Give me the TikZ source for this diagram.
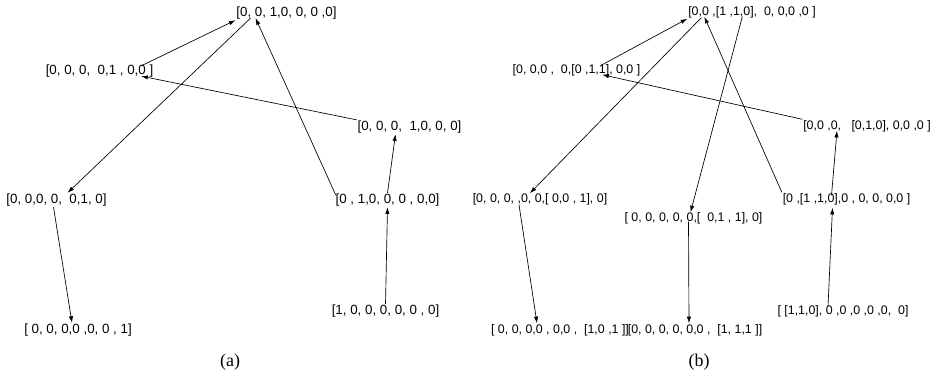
\documentclass[tikz,border=0pt]{standalone}
\usepackage{fontspec}
\setmainfont{Liberation Serif}
\newfontfamily\vecfont{Liberation Sans}
\usetikzlibrary{arrows.meta,calc}

\begin{document}
\begin{tikzpicture}[x=0.75pt,y=-0.75pt,
    vec/.style={inner sep=0.5pt,font=\vecfont\fontsize{10}{12}\selectfont},
    nvec/.style={vec,font=\vecfont\fontsize{9.3}{11}\selectfont},
    edge/.style={-{Latex[length=5pt,width=3.2pt]},line width=0.5pt},
    sublabel/.style={font=\fontsize{13.5}{16}\selectfont}]
  \useasboundingbox (0,0) rectangle (934,375);
  % (a) one-hot vectors
  \node[vec] (a1) at (286.5,13) {[0, 0, 1,0, 0, 0 ,0]};
  \node[vec] (a2) at (99.5,71) {[0, 0, 0,\ \ 0,1 , 0,0 ]};
  \node[vec] (a3) at (409.5,127) {[0, 0, 0,\ \ 1,0, 0, 0]};
  \node[vec] (a4) at (56.5,200) {[0, 0,0, 0,\ \ 0,1, 0]};
  \node[vec] (a5) at (387.5,200) {[0 , 1,0, 0, 0 , 0,0]};
  \node[vec] (a6) at (78,330) {[ 0, 0, 0,0 ,0, 0 , 1]};
  \node[vec] (a7) at (385.5,311) {[1, 0, 0, 0, 0, 0 , 0]};
  \node[sublabel] (capa) at (230,362) {(a)};
  \draw[edge] ($(a2.north east)+(-13,2)$) -- (a1.south west);
  \draw[edge] ($(a1.south west)+(15,-2)$) -- ($(a4.north west)+(62,0)$);
  \draw[edge] ($(a5.north west)+(1,2)$) -- ($(a1.south west)+(20,-2)$);
  \draw[edge] (a3.north west) -- ($(a2.south east)+(-13,-2)$);
  \draw[edge] (a5.north) -- ($(a3.south)+(-14,0)$);
  \draw[edge] (a7.north) -- (a5.south);
  \draw[edge] ($(a4.south)+(-3,0)$) -- ($(a6.north)+(-6,0)$);
  % (b) nested vectors
  \node[nvec] (b1) at (752,12) {[0,0 ,[1 ,1,0],\ \ 0, 0,0 ,0 ]};
  \node[nvec] (b2) at (576.5,70) {[0, 0,0 ,\ \ 0,[0 ,1,1], 0,0 ]};
  \node[nvec] (b3) at (867,126) {[0,0 ,0,\ \ \ [0,1,0], 0,0 ,0 ]};
  \node[nvec] (b4) at (540,199) {[0, 0, 0, ,0, 0,[ 0,0 , 1], 0]};
  \node[nvec] (b5) at (693.5,218) {[ 0, 0, 0, 0, 0,[\ \ 0,1 , 1], 0]};
  \node[nvec] (b6) at (846.5,199) {[0 ,[1 ,1,0],0 , 0, 0, 0,0 ]};
  \node[nvec] (b7) at (560,330) {[ 0, 0, 0,0 , 0,0 ,\ \ [1,0 ,1 ]]};
  \node[nvec] (b8) at (695,330) {[0, 0, 0, 0, 0,0 ,\ \ [1, 1,1 ]]};
  \node[nvec] (b9) at (843,311) {[ [1,1,0], 0 ,0 ,0 ,0 ,0,\ \ 0]};
  \node[sublabel] (capb) at (699,362) {(b)};
  \draw[edge] ($(b2.north east)+(-40,2)$) -- (b1.south west);
  \draw[edge] ($(b1.south west)+(14,-1)$) -- ($(b4.north west)+(58,1)$);
  \draw[edge] (b6.north west) -- ($(b1.south west)+(17,-2)$);
  \draw[edge] ($(b1.south west)+(55,-2)$) -- ($(b5.north)+(-3,1)$);
  \draw[edge] (b3.north west) -- ($(b2.south east)+(-39,-2)$);
  \draw[edge] ($(b6.north)+(-15,3)$) -- ($(b3.south)+(-30,-2)$);
  \draw[edge] ($(b9.north)+(-15,2)$) -- ($(b6.south)+(-14,2)$);
  \draw[edge] ($(b4.south)+(-21,-1)$) -- ($(b7.north)+(-23,0)$);
  \draw[edge] ($(b5.south)+(-5,-3)$) -- ($(b8.north)+(-6,0)$);
\end{tikzpicture}
\end{document}
